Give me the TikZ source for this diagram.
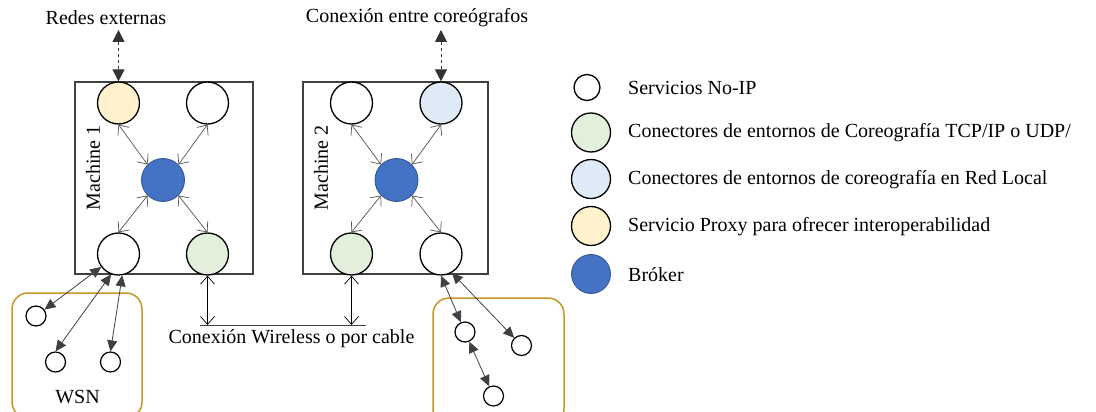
\documentclass[tikz,border=0pt]{standalone}
\usepackage{fontspec}
\setmainfont{Liberation Serif}
\usetikzlibrary{arrows.meta,calc}
\definecolor{cgreen}{HTML}{E2EFDA}
\definecolor{cblue}{HTML}{DEEAF6}
\definecolor{cyellow}{HTML}{FFF2CC}
\definecolor{cbroker}{HTML}{4472C4}
\definecolor{cbrokerd}{HTML}{2F528F}
\definecolor{cgold}{RGB}{197,152,38}
\definecolor{cbox}{HTML}{404040}
\tikzset{
  svc/.style={circle,draw=black,line width=1.3pt,minimum size=42pt,inner sep=0pt},
  small/.style={circle,draw=black,line width=1.2pt,minimum size=20pt,inner sep=0pt},
  broker/.style={circle,fill=cbroker,draw=cbrokerd,line width=0.8pt,minimum size=43pt,inner sep=0pt},
  machine/.style={draw=cbox,line width=1.5pt},
  inner/.style={draw=cbox!90,line width=0.7pt,>={Straight Barb[length=8pt,width=14pt,line width=0.7pt]},<->},
  wsnarr/.style={draw=cbox,line width=0.8pt,>={Triangle[length=11pt,width=10pt]},<->},
  dasharr/.style={draw=black!80,line width=1pt,dash pattern=on 3.5pt off 2.5pt,>={Triangle[length=12pt,width=12pt]},<->},
  wsnbox/.style={draw=cgold,line width=1.5pt,rounded corners=16pt},
  txt/.style={font=\fontsize{20}{22}\selectfont,inner sep=0pt},
  legtxt/.style={font=\fontsize{20}{22}\selectfont,inner sep=0pt,anchor=west},
}
\begin{document}
\begin{tikzpicture}[x=1pt,y=-1pt]
\useasboundingbox (0,0) rectangle (1096,412);
% machine boxes
\draw[machine] (75,82) rectangle (253,274);
\draw[machine] (303,82) rectangle (488,274);
\node[txt,rotate=90] (m1) at (93,168) {Machine 1};
\node[txt,rotate=90] (m2) at (321,168) {Machine 2};
% machine 1 circles
\node[svc,fill=cyellow] (p1) at (118.5,103) {};
\node[svc,fill=white] (w1) at (207.5,103) {};
\node[broker] (b1) at (163,180) {};
\node[svc,fill=white] (bl) at (118.5,254) {};
\node[svc,fill=cgreen] (g1) at (207.5,254) {};
% machine 2 circles
\node[svc,fill=white] (w2) at (351.5,103) {};
\node[svc,fill=cblue] (lb2) at (441,103) {};
\node[broker] (b2) at (396.5,180) {};
\node[svc,fill=cgreen] (g2) at (351.5,254) {};
\node[svc,fill=white] (wr) at (441,254) {};
% inner arrows
\draw[inner] (p1.south) -- (b1.north west);
\draw[inner] (w1.south) -- (b1.north east);
\draw[inner] (bl.north) -- (b1.south west);
\draw[inner] (g1.north) -- (b1.south east);
\draw[inner] (w2.south) -- (b2.north west);
\draw[inner] (lb2.south) -- (b2.north east);
\draw[inner] (g2.north) -- (b2.south west);
\draw[inner] (wr.north) -- (b2.south east);
% top labels and dashed arrows
\node[txt] (redes) at (106,18) {Redes externas};
\coordinate (rtop) at (118.5,30);
\draw[dasharr] (rtop) -- (p1.north);
\node[txt] (conex) at (417,18) {Conexión entre coreógrafos};
\coordinate (ctop) at (441,30);
\draw[dasharr] (ctop) -- (lb2.north);
% wireless connection
\coordinate (gl1) at (207.5,325);
\coordinate (gl2) at (351.5,325);
\coordinate (hl) at (200,325);
\coordinate (hr) at (366,325);
\draw[cbox,line width=0.8pt] (hl) -- (hr);
\draw[inner,draw=black] (g1.south) -- (gl1);
\draw[inner,draw=black] (g2.south) -- (gl2);
\node[txt] (wl) at (291.5,339) {Conexión Wireless o por cable};
% WSN left
\draw[wsnbox] (12,293) rectangle (142,418);
\node[small] (c1) at (36,316) {};
\node[small] (c2) at (55.5,362) {};
\node[small] (c3) at (110.5,362) {};
\node[txt] (wsn) at (77.5,397) {WSN};
\draw[wsnarr] (bl) -- (c1);
\draw[wsnarr] (bl.250) -- (c2.north);
\draw[wsnarr] (bl.280) -- (c3.north);
% WSN right
\draw[wsnbox] (433,298) rectangle (564,425);
\node[small] (d1) at (465,332) {};
\node[small] (d2) at (521.5,345.5) {};
\node[small] (d3) at (493.5,396) {};
\draw[wsnarr] (wr.south) -- (d1);
\draw[wsnarr] (wr.-60) -- (d2);
\draw[wsnarr] (d1) -- (d3);
% legend
\node[circle,draw=black,line width=1.3pt,minimum size=26pt,inner sep=0pt,fill=white] (l1) at (587,87.5) {};
\node[svc,minimum size=39pt,fill=cgreen] (l2) at (591,132.5) {};
\node[svc,minimum size=39pt,fill=cblue] (l3) at (591,179) {};
\node[svc,minimum size=39pt,fill=cyellow] (l4) at (591,226) {};
\node[broker,minimum size=39pt] (l5) at (591,274) {};
\node[legtxt] (t1) at (628,88) {Servicios No-IP};
\node[legtxt] (t2) at (628,133) {Conectores de entornos de Coreografía TCP/IP o UDP/};
\node[legtxt] (t3) at (628,180) {Conectores de entornos de coreografía en Red Local};
\node[legtxt] (t4) at (628,227) {Servicio Proxy para ofrecer interoperabilidad};
\node[legtxt] (t5) at (628,275) {Bróker};
\end{tikzpicture}
\end{document}
